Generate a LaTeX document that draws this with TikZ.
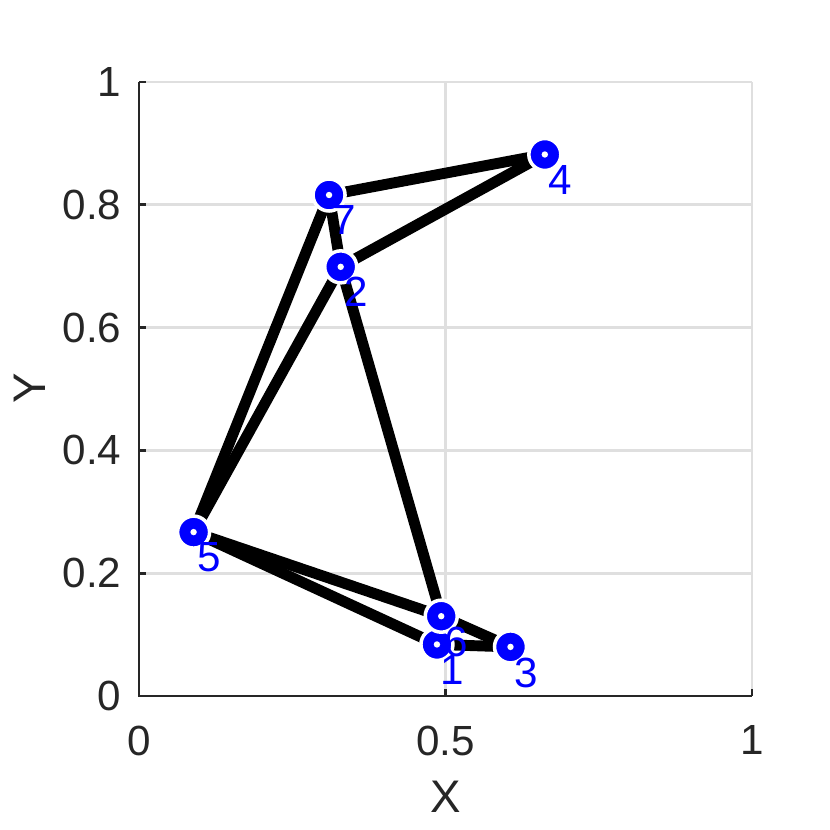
\documentclass[tikz,border=0pt]{standalone}
\usepackage{fontspec}
\setmainfont{Liberation Sans}
\usetikzlibrary{backgrounds}
\definecolor{gridgray}{HTML}{DFDFDF}
\definecolor{axisdark}{HTML}{262626}
\definecolor{vtxblue}{HTML}{0000FF}

\begin{document}
\begin{tikzpicture}[x=6.13cm, y=6.14cm,
  vtx/.style={circle, fill=vtxblue, draw=white, line width=1pt, minimum size=0.32cm,
              inner sep=0pt,
              path picture={\fill[white] (path picture bounding box.center) circle (0.032cm);}},
  bar/.style={black, line width=3.1pt, line cap=round},
  lbl/.style={anchor=north west, inner sep=0pt, xshift=0.03cm, yshift=-0.1cm,
              text=vtxblue, font=\fontsize{12}{14}\selectfont},
  ticklbl/.style={inner sep=0pt, text=axisdark, font=\fontsize{12}{14}\selectfont},
  axlbl/.style={inner sep=0pt, text=axisdark, font=\fontsize{13}{15}\selectfont},
  gridline/.style={draw=gridgray, line width=0.8pt},
  axisline/.style={draw=axisdark, line width=0.8pt},
]
\useasboundingbox (-0.2268,-0.2182) rectangle (1.1272,1.1336);

% axes box, ticks and tick labels
\draw[axisline] (0,1) -- (0,0) -- (1,0);
\foreach \y/\t in {0/0, 0.2/0.2, 0.4/0.4, 0.6/0.6, 0.8/0.8, 1/1} {
  \draw[axisline] (0,\y) -- ++(0.07cm,0);
  \node[ticklbl, anchor=east, xshift=-0.17cm] (ytick\t) at (0,\y) {\t};
}
\foreach \x/\t in {0/0, 0.5/0.5, 1/1} {
  \draw[axisline] (\x,0) -- ++(0,0.07cm);
  \node[ticklbl, anchor=north, yshift=-0.29cm] (xtick\t) at (\x,0) {\t};
}
\node[axlbl, yshift=-1.01cm] (xlabel) at (0.5,0) {X};
\node[axlbl, xshift=-1.09cm, rotate=90] (ylabel) at (0,0.502) {Y};

% vertices
\node[vtx] (n1) at (0.486, 0.084) {};
\node[vtx] (n2) at (0.329, 0.699) {};
\node[vtx] (n3) at (0.606, 0.080) {};
\node[vtx] (n4) at (0.662, 0.882) {};
\node[vtx] (n5) at (0.089, 0.267) {};
\node[vtx] (n6) at (0.493, 0.130) {};
\node[vtx] (n7) at (0.310, 0.816) {};

\foreach \i in {1,...,7}
  \node[lbl] (l\i) at (n\i.center) {\i};

% grid and edges go under the vertices
\begin{scope}[on background layer]
  \foreach \x in {0.5, 1}
    \draw[gridline] (\x,0) -- (\x,1);
  \foreach \y in {0.2, 0.4, 0.6, 0.8, 1}
    \draw[gridline] (0,\y) -- (1,\y);
  \draw[bar] (n7.center) -- (n4.center);
  \draw[bar] (n4.center) -- (n2.center);
  \draw[bar] (n7.center) -- (n5.center);
  \draw[bar] (n2.center) -- (n5.center);
  \draw[bar] (n7.center) -- (n2.center);
  \draw[bar] (n2.center) -- (n6.center);
  \draw[bar] (n5.center) -- (n6.center);
  \draw[bar] (n5.center) -- (n1.center);
  \draw[bar] (n6.center) -- (n3.center);
  \draw[bar] (n1.center) -- (n3.center);
\end{scope}
\end{tikzpicture}
\end{document}
